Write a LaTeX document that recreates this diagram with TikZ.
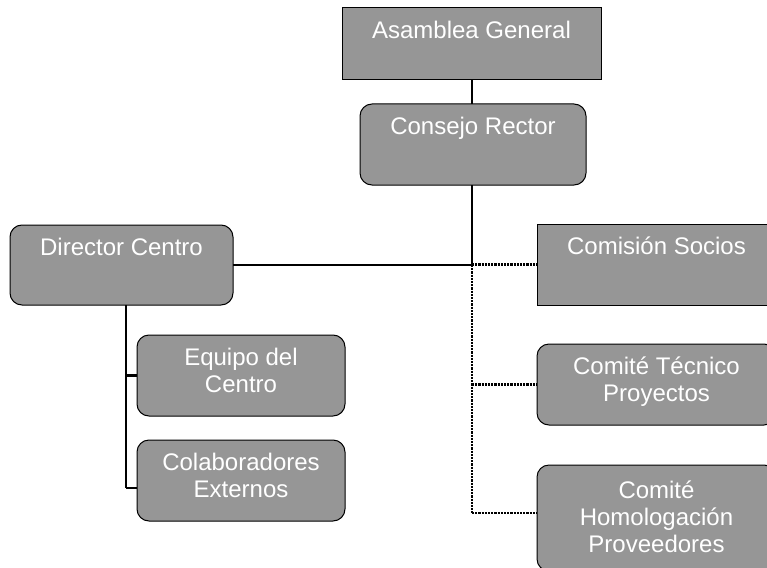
\documentclass[tikz,border=0pt]{standalone}
\usepackage{fontspec}
\setmainfont{Liberation Sans}
\usepackage{tikz}

\begin{document}
\begin{tikzpicture}[x=1pt, y=-1pt]
			\tikzset{caja/.style={rectangle, draw=black, fill=gris, line width=1pt, inner sep=0pt, outer sep=0pt},
			cajared/.style={caja, rounded corners=12pt},
			texto/.style={anchor=north, align=center, text=white, inner sep=0pt, font=\fontsize{24}{27}\selectfont},
			linea/.style={line width=2.2pt},
			punteada/.style={line width=2.2pt, densely dotted}};
			\definecolor{gris}{RGB}{150,150,150}

			\useasboundingbox (0,0) rectangle (767,567);
			\clip (0,0) rectangle (767,567);

			\node[caja, minimum width=259pt, minimum height=72pt] (ag) at (471.5, 44) {};
			\node[cajared, minimum width=226pt, minimum height=81pt] (cr) at (473, 144.5) {};
			\node[cajared, minimum width=223pt, minimum height=80pt] (dc) at (121.5, 265) {};
			\node[caja, minimum width=239pt, minimum height=81pt] (cs) at (656.5, 264.5) {};
			\node[cajared, minimum width=239pt, minimum height=81pt] (ct) at (656.5, 384.5) {};
			\node[cajared, minimum width=239pt, minimum height=106pt] (ch) at (656.5, 518) {};
			\node[cajared, minimum width=208pt, minimum height=81pt] (ec) at (241, 375.5) {};
			\node[cajared, minimum width=208pt, minimum height=81pt] (ce) at (241, 480.5) {};

			\node[texto] (tag) at ([yshift=-13pt]ag.north) {Asamblea General};
			\node[texto] (tcr) at ([yshift=-13pt]cr.north) {Consejo Rector};
			\node[texto] (tdc) at ([yshift=-13pt]dc.north) {Director Centro};
			\node[texto] (tcs) at ([yshift=-13pt]cs.north) {Comisión Socios};
			\node[texto] (tct) at ([yshift=-13pt]ct.north) {Comité Técnico\\Proyectos};
			\node[texto] (tch) at ([yshift=-16pt]ch.north) {Comité\\Homologación\\Proveedores};
			\node[texto] (tec) at ([yshift=-13pt]ec.north) {Equipo del\\Centro};
			\node[texto] (tce) at ([yshift=-13pt]ce.north) {Colaboradores\\Externos};

			\coordinate (j) at (472, 265);
			\coordinate (d) at (126, 305);
			\coordinate (dce) at (126, 488);
			\coordinate (hch) at (472, 513);

			\draw[linea] (ag.south -| j) -- (cr.north -| j);
			\draw[linea] (cr.south -| j) -- (j);
			\draw[linea] (dc.east) -- (j);

			\draw[punteada] (j) -- (hch);
			\draw[punteada] (j |- cs.west) -- (cs.west);
			\draw[punteada] (j |- ct.west) -- (ct.west);
			\draw[punteada] (hch) -- (hch -| ch.west);

			\draw[linea] (d) -- (dce);
			\draw[linea] (d |- ec.west) -- (ec.west);
			\draw[linea] (dce) -- (dce -| ce.west);
		\end{tikzpicture}
\end{document}
